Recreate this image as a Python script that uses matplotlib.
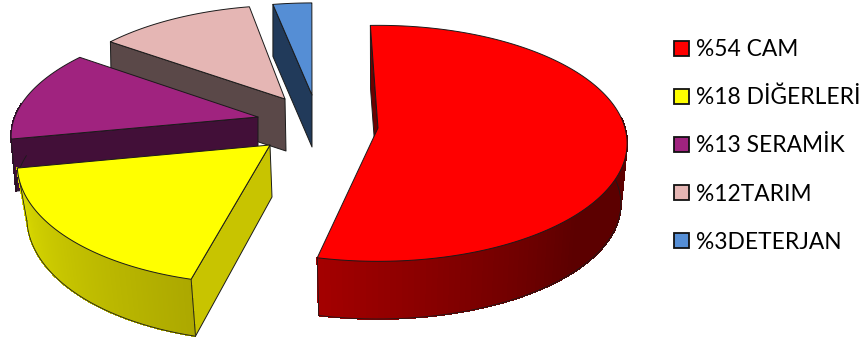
#-*- coding:utf-8 -*-

import numpy as np
import matplotlib
matplotlib.use("Agg")
import matplotlib.pyplot as plt
from matplotlib.collections import PolyCollection
from matplotlib.patches import Polygon, Rectangle

plt.rcParams['font.family'] = ['Lato', 'DejaVu Sans']

# Chart values
categories = ["CAM", "DİĞERLERİ", "SERAMİK", "TARIM", "DETERJAN"]
shares = [54, 18, 13, 12, 3]
legend_labels = ["%54 CAM", "%18 DİĞERLERİ", "%13 SERAMİK", "%12TARIM", "%3DETERJAN"]

# Slice colours: top face, flat side wall, rim shading from first to last angle
top_colors = ["#ff0000", "#ffff00", "#a0237f", "#e5b6b4", "#558ed5"]
wall_colors = ["#6e0000", "#c8c400", "#420f38", "#5a4848", "#213a5a"]
rim_start = ["#5c0000", "#aca800", "#420f38", "#5a4848", "#213a5a"]
rim_end = ["#a30000", "#dcdc00", "#420f38", "#5a4848", "#213a5a"]

# Projection of each exploded slice, in pixels
apex_x = [378, 270, 258, 285, 312]
apex_y = [128, 145, 117, 99, 95]
radius_x = [247, 248, 242, 234, 234]
radius_y = [116, 121, 110, 106, 104]
shear_x = [0, 16, 17, 12, 8]
shear_y = [0, -4.5, -3, -2.5, -3]
depth = [61, 52, 52, 52, 52]
base_shift = [0, 2, 0, 1, 0]
base_scale_x = [0.975, 0.97, 0.98, 1.0, 1.0]
base_scale_y = [0.975, 1.037, 1.0, 1.0, 1.0]
perspective = 0.13
first_angle = 92


def rim_points(i, theta, scale_x=1.0, scale_y=1.0):
	"""Offsets of the rim from the apex for angles in radians."""
	w = 1 + perspective * np.sin(theta)
	dx = (radius_x[i] * np.cos(theta) + shear_x[i] * np.sin(theta)) / w
	dy = (radius_y[i] * np.sin(theta) + shear_y[i] * np.cos(theta)) / w
	return dx * scale_x, -dy * scale_y


fig = plt.figure(figsize=(8.62, 3.41), dpi=100)
ax = fig.add_axes([0, 0, 1, 1])
ax.set_xlim(0, 862)
ax.set_ylim(341, 0)
ax.axis("off")

edge = dict(edgecolor="#1a1a1a", linewidth=0.7, joinstyle="round")

# Angles run clockwise from the first slice
ends = first_angle - np.cumsum(shares) / sum(shares) * 360
starts = np.concatenate(([first_angle], ends[:-1]))

# Painted from the back slice to the front one
for order, i in enumerate([4, 3, 2, 1, 0]):
	z = 10 * (order + 1)
	theta = np.radians(np.linspace(starts[i], ends[i], 160))
	tx, ty = rim_points(i, theta)
	bx, by = rim_points(i, theta, base_scale_x[i], base_scale_y[i])
	top = np.column_stack((apex_x[i] + tx, apex_y[i] + ty))
	base_apex = (apex_x[i] + base_shift[i], apex_y[i] + depth[i])
	base = np.column_stack((base_apex[0] + bx, base_apex[1] + by))

	# Only the wall along the leading cut edge can be seen
	ax.add_patch(Polygon(
		[top[0], (apex_x[i], apex_y[i]), base_apex, base[0]],
		facecolor=wall_colors[i], zorder=z, **edge
	))

	# Curved wall as thin shaded strips, only where it faces the viewer
	front = np.where(np.sin(theta) < 0.1)[0]
	if len(front) > 1:
		strips = []
		shades = []
		c0 = np.array(matplotlib.colors.to_rgb(rim_start[i]))
		c1 = np.array(matplotlib.colors.to_rgb(rim_end[i]))
		for j, m in enumerate(front[:-1]):
			strips.append([top[m], top[m + 1], base[m + 1], base[m]])
			t = j / (len(front) - 2)
			# the red wall stays dark over its first half
			if i == 0:
				t = max(0.0, (t - 0.45) / 0.55)
			shades.append(c0 + (c1 - c0) * t)
		ax.add_collection(PolyCollection(
			strips, facecolors=shades, edgecolors="face", linewidths=0.6,
			antialiaseds=False, zorder=z + 1
		))
		ax.plot(base[front, 0], base[front, 1], color="#1a1a1a", lw=0.6, zorder=z + 2)
		# Vertical corner lines only at the real ends of the slice
		for m in (0, len(theta) - 1):
			if m in front:
				ax.plot(
					[top[m, 0], base[m, 0]], [top[m, 1], base[m, 1]],
					color="#1a1a1a", lw=0.6, zorder=z + 2
				)

	# Top face
	outline = np.vstack(([apex_x[i], apex_y[i]], top))
	ax.add_patch(Polygon(outline, facecolor=top_colors[i], zorder=z + 3, **edge))

# Legend
legend_y = [48, 96, 144, 192.7, 240.7]
for color, label, y in zip(top_colors, legend_labels, legend_y):
	ax.add_patch(Rectangle(
		(674, y - 7.5), 15, 15, facecolor=color, edgecolor="#111111", linewidth=1.3, zorder=100
	))
	ax.text(696, y + 8, label, fontsize=16.4, color="#000000", va="baseline", ha="left", zorder=100)

fig.savefig("out.png", dpi=100)
